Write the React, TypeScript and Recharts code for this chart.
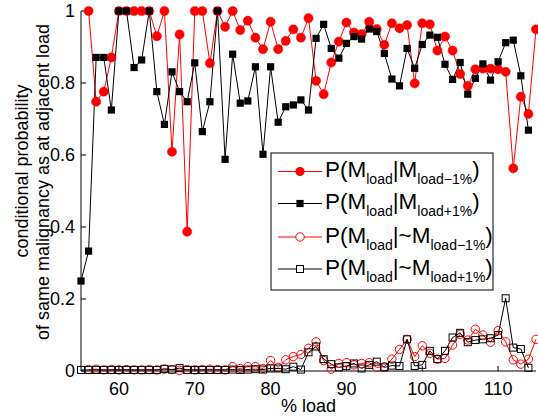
import React from 'react';
import { LineChart, Line, XAxis, YAxis } from 'recharts';

// % load categories
const loads = [55, 56, 57, 58, 59, 60, 61, 62, 63, 64, 65, 66, 67, 68, 69, 70, 71, 72, 73, 74, 75, 76, 77, 78, 79, 80, 81, 82, 83, 84, 85, 86, 87, 88, 89, 90, 91, 92, 93, 94, 95, 96, 97, 98, 99, 100, 101, 102, 103, 104, 105, 106, 107, 108, 109, 110, 111, 112, 113, 114, 115];

// P(M_load | M_load-1%), loads 56..115
const sameGivenPrev = [1.0, 0.748, 0.776, 0.871, 1.0, 1.0, 1.0, 1.0, 1.0, 0.93, 1.0, 0.609, 0.935, 0.387, 1.0, 1.0, 0.855, 1.0, 0.956, 1.0, 0.947, 0.973, 0.926, 0.894, 0.97, 0.894, 0.917, 0.949, 0.926, 0.98, 0.806, 0.769, 0.857, 0.915, 0.968, 0.94, 0.936, 0.97, 0.95, 0.906, 0.966, 0.952, 0.961, 0.799, 0.966, 0.963, 0.89, 0.929, 0.89, 0.825, 0.792, 0.838, 0.84, 0.84, 0.838, 0.831, 0.563, 0.762, 0.714, 0.949];

// P(M_load | M_load+1%), loads 55..114
const sameGivenNext = [0.25, 0.333, 0.871, 0.871, 0.725, 1.0, 1.0, 0.843, 0.864, 1.0, 0.776, 0.685, 0.831, 0.776, 0.748, 0.856, 0.665, 0.748, 1.0, 0.588, 0.88, 0.744, 0.75, 0.845, 0.602, 0.845, 0.691, 0.734, 0.739, 0.753, 0.725, 0.924, 0.963, 0.896, 0.869, 0.91, 0.929, 0.922, 0.95, 0.943, 0.882, 0.811, 0.792, 0.896, 0.841, 0.907, 0.933, 0.927, 0.852, 0.81, 0.857, 0.769, 0.813, 0.853, 0.808, 0.859, 0.912, 0.919, 0.82, 0.669];

// P(M_load | ~M_load-1%), loads 56..115
const sameGivenNotPrev = [0.004, 0.005, 0.003, 0.004, 0.003, 0.004, 0.003, 0.003, 0.004, 0.003, 0.005, 0.004, 0.002, 0.004, 0.003, 0.004, 0.005, 0.004, 0.003, 0.012, 0.007, 0.012, 0.012, 0.007, 0.029, 0.01, 0.031, 0.04, 0.046, 0.063, 0.081, 0.029, 0.005, 0.021, 0.023, 0.017, 0.021, 0.023, 0.01, 0.012, 0.033, 0.06, 0.088, 0.04, 0.07, 0.049, 0.033, 0.035, 0.072, 0.102, 0.086, 0.116, 0.1, 0.08, 0.112, 0.081, 0.031, 0.019, 0.033, 0.088];

// P(M_load | ~M_load+1%), loads 55..114
const sameGivenNotNext = [0.003, 0.003, 0.003, 0.003, 0.003, 0.003, 0.003, 0.003, 0.003, 0.003, 0.003, 0.006, 0.004, 0.008, 0.003, 0.003, 0.003, 0.003, 0.003, 0.003, 0.004, 0.003, 0.004, 0.005, 0.004, 0.007, 0.007, 0.005, 0.012, 0.004, 0.052, 0.068, 0.033, 0.019, 0.01, 0.014, 0.021, 0.007, 0.017, 0.026, 0.01, 0.015, 0.014, 0.088, 0.014, 0.017, 0.056, 0.033, 0.056, 0.093, 0.106, 0.08, 0.086, 0.088, 0.091, 0.1, 0.202, 0.065, 0.061, 0.009];

const xTicks = [60, 70, 80, 90, 100, 110];
const yTicks = [0, 0.2, 0.4, 0.6, 0.8, 1];

const data = loads.map((load, i) => ({
  load,
  a: i >= 1 ? sameGivenPrev[i - 1] : null,
  b: i < sameGivenNext.length ? sameGivenNext[i] : null,
  c: i >= 1 ? sameGivenNotPrev[i - 1] : null,
  d: i < sameGivenNotNext.length ? sameGivenNotNext[i] : null,
}));

const RED = '#ff0000';
const FONT = '"Liberation Sans", Arial, Helvetica, sans-serif';

const FilledCircle = (p: any) => {
  if (p.cy == null || p.value == null) return <g key={p.index} />;
  return <circle key={p.index} cx={p.cx} cy={p.cy} r={4.6} fill={RED} stroke={RED} strokeWidth={0.5} />;
};
const FilledSquare = (p: any) => {
  if (p.cy == null || p.value == null) return <g key={p.index} />;
  return <rect key={p.index} x={p.cx - 3.6} y={p.cy - 3.6} width={7.2} height={7.2} fill="#000" />;
};
const OpenCircle = (p: any) => {
  if (p.cy == null || p.value == null) return <g key={p.index} />;
  return <circle key={p.index} cx={p.cx} cy={p.cy} r={4.2} fill="none" stroke={RED} strokeWidth={1} />;
};
const OpenSquare = (p: any) => {
  if (p.cy == null || p.value == null) return <g key={p.index} />;
  return <rect key={p.index} x={p.cx - 3.5} y={p.cy - 3.5} width={7} height={7} fill="none" stroke="#000" strokeWidth={1} />;
};

const fmtY = (v: number) => (v === 0 ? '0' : v === 1 ? '1' : v.toFixed(1));

const legendRows = [
  { sep: '|M', sub: 'load\u22121%', color: RED, marker: 'fc' },
  { sep: '|M', sub: 'load+1%', color: '#000', marker: 'fs' },
  { sep: '|~M', sub: 'load\u22121%', color: RED, marker: 'oc' },
  { sep: '|~M', sub: 'load+1%', color: '#000', marker: 'os' },
];

const Legend = () => {
  const rowY = [171.5, 203.5, 237, 269];
  return (
    <g>
      <rect x={271} y={153} width={222} height={137} fill="#fff" stroke="#000" strokeWidth={1} />
      {legendRows.map((r, i) => {
        const y = rowY[i];
        return (
          <g key={i}>
            <line x1={278} x2={322} y1={y} y2={y} stroke={r.color} strokeWidth={1} />
            {r.marker === 'fc' && <circle cx={300} cy={y} r={4.6} fill={RED} />}
            {r.marker === 'fs' && <rect x={296.4} y={y - 3.6} width={7.2} height={7.2} fill="#000" />}
            {r.marker === 'oc' && <circle cx={300} cy={y} r={4.2} fill="#fff" stroke={RED} />}
            {r.marker === 'os' && <rect x={296.5} y={y - 3.5} width={7} height={7} fill="#fff" stroke="#000" />}
            <text x={325} y={y + 5.5} fontSize={22.5} fontFamily={FONT} fill="#000">
              P(M
              <tspan fontSize={14} dy={7}>load</tspan>
              <tspan fontSize={22.5} dy={-7}>{r.sep}</tspan>
              <tspan fontSize={14} dy={7}>{r.sub}</tspan>
              <tspan fontSize={22.5} dy={-7}>)</tspan>
            </text>
          </g>
        );
      })}
    </g>
  );
};

export default function App() {
  return (
    <div style={{ position: 'absolute', left: 0, top: 0, width: 538, height: 418, background: '#fff' }}>
      <LineChart width={538} height={418} data={data} margin={{ top: 11, right: 2, bottom: 0, left: 0 }}>
        <XAxis
          dataKey="load"
          type="number"
          domain={[55, 115]}
          ticks={xTicks}
          height={47}
          stroke="#000"
          tickSize={-5}
          tickMargin={16}
          tick={{ fill: '#000', fontSize: 18, fontFamily: FONT }}
          allowDecimals={false}
        />
        <XAxis
          xAxisId="top"
          orientation="top"
          dataKey="load"
          type="number"
          domain={[55, 115]}
          ticks={xTicks}
          height={0}
          stroke="#000"
          tickSize={-5}
          tickFormatter={() => ''}
        />
        <YAxis
          type="number"
          domain={[0, 1]}
          ticks={yTicks}
          width={81}
          stroke="#000"
          tickSize={-5}
          tickMargin={11}
          tickFormatter={fmtY}
          tick={{ fill: '#000', fontSize: 18, fontFamily: FONT }}
        />
        <YAxis
          yAxisId="right"
          orientation="right"
          type="number"
          domain={[0, 1]}
          ticks={yTicks}
          width={0}
          stroke="#000"
          tickSize={-5}
          tickFormatter={() => ''}
        />
        <Line dataKey="a" stroke={RED} strokeWidth={1} dot={FilledCircle} isAnimationActive={false} connectNulls={false} />
        <Line dataKey="b" stroke="#000" strokeWidth={1} dot={FilledSquare} isAnimationActive={false} connectNulls={false} />
        <Line dataKey="c" stroke={RED} strokeWidth={1} dot={OpenCircle} isAnimationActive={false} connectNulls={false} />
        <Line dataKey="d" stroke="#000" strokeWidth={1} dot={OpenSquare} isAnimationActive={false} connectNulls={false} />
      </LineChart>
      <svg width={538} height={418} style={{ position: 'absolute', left: 0, top: 0, pointerEvents: 'none' }}>
        <Legend />
        <text x={308.5} y={412} textAnchor="middle" fontSize={18} fontFamily={FONT} fill="#000">% load</text>
        <text x={28} y={171} transform="rotate(-90 28 171)" textAnchor="middle" fontSize={18} fontFamily={FONT} fill="#000">conditional probability</text>
        <text x={49} y={182} transform="rotate(-90 49 182)" textAnchor="middle" fontSize={18} fontFamily={FONT} fill="#000">of same malignancy as at adjacent load</text>
      </svg>
    </div>
  );
}
